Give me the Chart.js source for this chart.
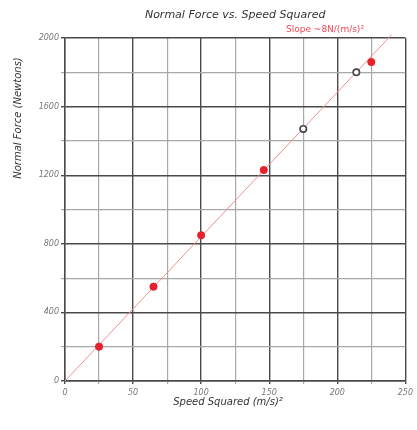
<!DOCTYPE html>
<html>
<head>
<meta charset="utf-8">
<script src="https://cdn.jsdelivr.net/npm/chart.js@4/dist/chart.umd.min.js"></script>
<style>
    html, body { margin: 0; padding: 0; background: #fff; }
    #wrap { width: 417px; height: 430px; position: relative; }
</style>
</head>
<body>
<div id="wrap"><canvas id="forceChart"></canvas></div>
<script>
// Measured points (filled red) and the two open circles
var redX = [25, 65, 100, 146, 225];
var redY = [200, 550, 850, 1230, 1860];
var openX = [175, 214];
var openY = [1470, 1800];
// Best fit line ends
var fitX = [0, 240];
var fitY = [0, 2020];

var xTicks = [0, 50, 100, 150, 200, 250];
var yTicks = [0, 400, 800, 1200, 1600, 2000];

function toPoints(xs, ys) {
    return xs.map(function(x, i) { return { x: x, y: ys[i] }; });
}

// Titles drawn by hand so they sit where the reference has them
var labelsPlugin = {
    id: 'labels',
    afterDraw: function(chart) {
        var c = chart.ctx;
        var area = chart.chartArea;
        c.save();
        c.fillStyle = '#333';
        c.textAlign = 'center';
        c.textBaseline = 'middle';
        c.font = 'italic 11px "DejaVu Sans"';
        c.fillText('Normal Force vs. Speed Squared', (area.left + area.right) / 2, 15);

        c.font = 'italic 10px "DejaVu Sans"';
        c.fillText('Speed Squared (m/s)\u00b2', 228, 402);

        c.save();
        c.translate(18, 118);
        c.rotate(-Math.PI / 2);
        c.fillText('Normal Force (Newtons)', 0, 0);
        c.restore();

        c.fillStyle = '#f04858';
        c.font = '9px "DejaVu Sans"';
        c.fillText('Slope ~8N/(m/s)\u00b2', 325, 30);
        c.restore();
    }
};

var tickFont = { family: 'DejaVu Sans', style: 'italic', size: 8 };

new Chart(document.getElementById('forceChart'), {
    type: 'scatter',
    data: {
        datasets: [{
            type: 'line',
            data: toPoints(fitX, fitY),
            borderColor: '#f29090',
            borderWidth: 1,
            pointRadius: 0,
            clip: false,
            order: 3
        }, {
            data: toPoints(openX, openY),
            backgroundColor: '#fff',
            borderColor: '#444',
            borderWidth: 1.6,
            pointRadius: 3.2,
            order: 1
        }, {
            data: toPoints(redX, redY),
            backgroundColor: '#e8202e',
            borderColor: '#e8202e',
            pointRadius: 3.6,
            order: 2
        }]
    },
    options: {
        responsive: true,
        maintainAspectRatio: false,
        animation: false,
        layout: { padding: { top: 38, right: 9, left: 0, bottom: 0 } },
        plugins: {
            legend: { display: false },
            tooltip: { enabled: false }
        },
        scales: {
            x: {
                type: 'linear',
                min: 0,
                max: 250,
                afterFit: function(scale) { scale.height = 49; },
                afterBuildTicks: function(scale) {
                    var t = [];
                    for (var v = 0; v <= 250; v += 25) t.push({ value: v });
                    scale.ticks = t;
                },
                ticks: {
                    autoSkip: false,
                    maxRotation: 0,
                    color: '#777',
                    font: tickFont,
                    padding: 4,
                    callback: function(v) { return xTicks.indexOf(v) !== -1 ? v : ''; }
                },
                grid: {
                    color: function(ctx) { return ctx.tick && ctx.tick.value % 50 === 0 ? '#4a4a4a' : '#a8a8a8'; },
                    lineWidth: function(ctx) { return ctx.tick && ctx.tick.value % 50 === 0 ? 1.4 : 1.2; },
                    tickLength: 3
                },
                border: { color: '#4a4a4a', width: 1.4 }
            },
            y: {
                type: 'linear',
                min: 0,
                max: 2000,
                afterFit: function(scale) { scale.width = 65; },
                afterBuildTicks: function(scale) {
                    var t = [];
                    for (var v = 0; v <= 2000; v += 200) t.push({ value: v });
                    scale.ticks = t;
                },
                ticks: {
                    autoSkip: false,
                    color: '#777',
                    font: tickFont,
                    padding: 2,
                    callback: function(v) { return yTicks.indexOf(v) !== -1 ? v : ''; }
                },
                grid: {
                    color: function(ctx) { return ctx.tick && ctx.tick.value % 400 === 0 ? '#4a4a4a' : '#a8a8a8'; },
                    lineWidth: function(ctx) { return ctx.tick && ctx.tick.value % 400 === 0 ? 1.4 : 1.2; },
                    tickLength: 4
                },
                border: { color: '#4a4a4a', width: 1.4 }
            }
        }
    },
    plugins: [labelsPlugin]
});
</script>
</body>
</html>
